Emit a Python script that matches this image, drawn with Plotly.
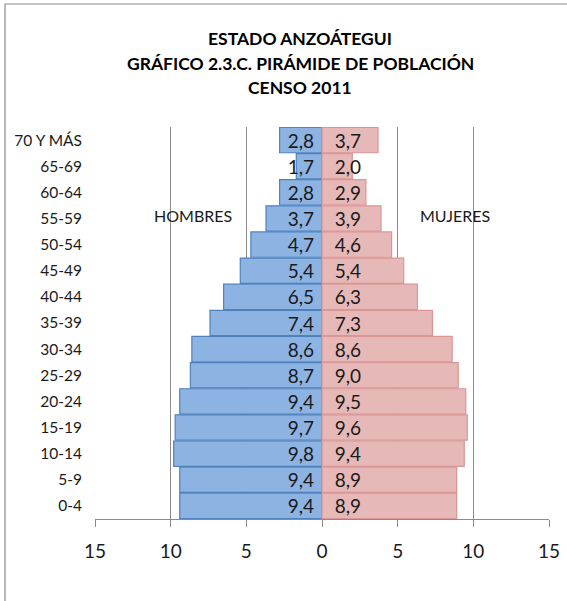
import plotly.graph_objects as go

# ---- data ----
age_groups = ["0-4", "5-9", "10-14", "15-19", "20-24", "25-29", "30-34", "35-39",
              "40-44", "45-49", "50-54", "55-59", "60-64", "65-69", "70 Y MÁS"]
hombres = [9.4, 9.4, 9.8, 9.7, 9.4, 8.7, 8.6, 7.4, 6.5, 5.4, 4.7, 3.7, 2.8, 1.7, 2.8]
mujeres = [8.9, 8.9, 9.4, 9.6, 9.5, 9.0, 8.6, 7.3, 6.3, 5.4, 4.6, 3.9, 2.9, 2.0, 3.7]
x_tickvals = [-15, -10, -5, 0, 5, 10, 15]
x_ticktext = ["15", "10", "5", "0", "5", "10", "15"]
title_lines = ["ESTADO ANZOÁTEGUI", "GRÁFICO 2.3.C. PIRÁMIDE DE POBLACIÓN", "CENSO 2011"]

W, H = 567, 601
ML, MR, MT, MB = 95, 18, 127, 82
FONT = "Lato"


def fmt(v):
    return f"{v:.1f}".replace(".", ",")


NB = "\u00a0"
men_text = [fmt(v) + NB for v in hombres]
women_text = [NB * 2 + fmt(v) for v in mujeres]

fig = go.Figure()
fig.add_trace(go.Bar(
    y=age_groups, x=[-v for v in hombres], orientation="h", name="Hombres",
    marker=dict(color="#8DB3E2", line=dict(color="#4F81BD", width=1.2)),
    text=men_text, textposition="inside", insidetextanchor="start",
    constraintext="none", textfont=dict(family=FONT, size=19, color="#1a1a1a"),
    hoverinfo="skip",
))
fig.add_trace(go.Bar(
    y=age_groups, x=mujeres, orientation="h", name="Mujeres",
    marker=dict(color="#E6B9B8", line=dict(color="#D99694", width=1.2)),
    text=women_text, textposition="inside", insidetextanchor="start",
    constraintext="none", textfont=dict(family=FONT, size=19, color="#1a1a1a"),
    hoverinfo="skip",
))

pw = W - ML - MR
ph = H - MT - MB


def px2paper_x(px):
    return (px - ML) / pw


def px2paper_y(py):
    return (H - MB - py) / ph


fig.add_shape(type="rect", xref="paper", yref="paper",
              x0=px2paper_x(5), x1=px2paper_x(620),
              y0=px2paper_y(4), y1=px2paper_y(660),
              line=dict(color="#8c8c8c", width=1.2), fillcolor="rgba(0,0,0,0)",
              layer="below")

# title lines
for line, ypx in zip(title_lines, [38, 63, 88]):
    fig.add_annotation(x=px2paper_x(300), y=px2paper_y(ypx), xref="paper", yref="paper",
                       text="<b>" + line + "</b>", showarrow=False,
                       xanchor="center", yanchor="middle",
                       font=dict(family=FONT, size=17.5, color="#000000"))

fig.add_annotation(x=-8.5, y="55-59", text="HOMBRES", showarrow=False,
                   yshift=3, font=dict(family=FONT, size=16, color="#1a1a1a"))
fig.add_annotation(x=8.8, y="55-59", text="MUJERES", showarrow=False,
                   yshift=3, font=dict(family=FONT, size=16, color="#1a1a1a"))

fig.update_layout(
    width=W, height=H,
    margin=dict(l=ML, r=MR, t=MT, b=MB),
    paper_bgcolor="white", plot_bgcolor="white",
    barmode="relative", bargap=0.03,
    showlegend=False,
    xaxis=dict(range=[-15, 15], tickvals=x_tickvals, ticktext=x_ticktext,
               showgrid=True, gridcolor="#8c8c8c", gridwidth=1,
               zeroline=True, zerolinecolor="#8c8c8c", zerolinewidth=1,
               showline=True, linecolor="#8c8c8c", linewidth=1.2,
               ticks="outside", ticklen=7, tickcolor="#8c8c8c",
               ticklabelstandoff=8, automargin=False,
               tickfont=dict(family=FONT, size=19, color="#1a1a1a"),
               fixedrange=True),
    yaxis=dict(type="category", showgrid=False, showline=False, ticks="",
               ticklabelstandoff=12, automargin=False,
               tickfont=dict(family=FONT, size=15.5, color="#1a1a1a"),
               fixedrange=True),
)

fig.write_html("out.html", config={"displayModeBar": False},
               post_script="document.body.style.margin='0';")
